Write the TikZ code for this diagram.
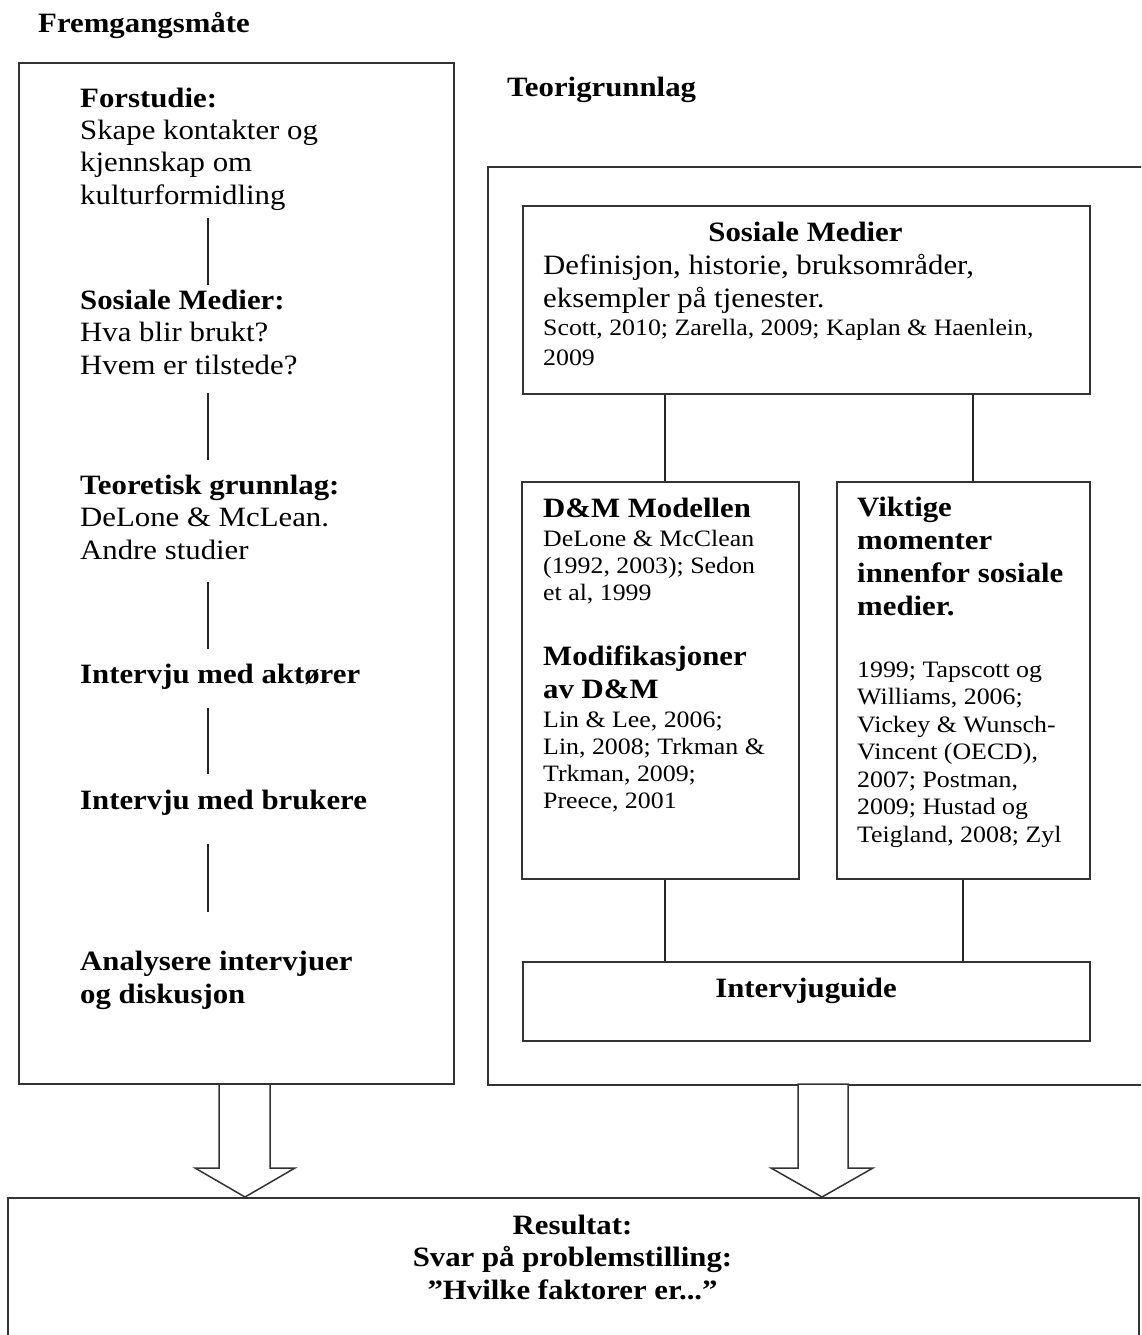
\documentclass[tikz,border=0pt]{standalone}
\usepackage{fontspec}
\newfontfamily\tnr{Liberation Serif}[FakeStretch=1.1]
\tikzset{
  frame/.style={draw=black!80, line width=1.6pt, rectangle, inner sep=0pt, anchor=north west},
  conn/.style={draw=black!85, line width=1.4pt},
  big/.style={font={\tnr\fontsize{28}{32.3}\selectfont}},
  small/.style={font={\tnr\fontsize{23.5}{27}\selectfont}},
  txt/.style={anchor=base west, inner sep=0pt, align=left, text=black},
  ctxt/.style={anchor=base, inner sep=0pt, align=center, text=black},
  blockarrow/.style={draw=black!80, line width=1.5pt, fill=white, line join=miter}
}
\begin{document}
\begin{tikzpicture}[x=1pt,y=-1pt]
\useasboundingbox (0,0) rectangle (1141,1335);
\clip (0,0) rectangle (1141,1335);
\fill[white] (0,0) rectangle (1141,1335);

% titles (base anchor = baseline of the last line)
\node[txt, font={\tnr\fontsize{28}{32}\selectfont\bfseries}] (t1) at (38,33) {Fremgangsmåte};
\node[txt, font={\tnr\fontsize{28}{32}\selectfont\bfseries}] (t2) at (507,97) {Teorigrunnlag};

% frames
\node[frame, minimum width=435pt, minimum height=1021pt] (lb) at (18,62) {};
\node[frame, minimum width=700pt, minimum height=918pt] (rb) at (487,166) {};
\node[frame, minimum width=567pt, minimum height=188pt] (sm) at (522,205) {};
\node[frame, minimum width=277pt, minimum height=397pt] (dm) at (521,481) {};
\node[frame, minimum width=253pt, minimum height=397pt] (vm) at (836,481) {};
\node[frame, minimum width=567pt, minimum height=79pt] (ig) at (522,961) {};
\node[frame, minimum width=1131pt, minimum height=180pt] (res) at (7,1197) {};

% left column texts
\node[txt, big] (l1) at (80,204) {\textbf{Forstudie:}\\Skape kontakter og\\kjennskap om\\kulturformidling};
\node[txt, big] (l2) at (80,374) {\textbf{Sosiale Medier:}\\Hva blir brukt?\\Hvem er tilstede?};
\node[txt, big] (l3) at (80,559) {\textbf{Teoretisk grunnlag:}\\DeLone \& McLean.\\Andre studier};
\node[txt, big] (l4) at (80,683) {\textbf{Intervju med aktører}};
\node[txt, big] (l5) at (80,809) {\textbf{Intervju med brukere}};
\node[txt, big] (l6) at (80,1003) {\textbf{Analysere intervjuer}\\\textbf{og diskusjon}};

% left connectors
\coordinate (a1) at (208,218); \coordinate (b1) at (208,285);
\coordinate (a2) at (208,393); \coordinate (b2) at (208,460);
\coordinate (a3) at (208,582); \coordinate (b3) at (208,649);
\coordinate (a4) at (208,708); \coordinate (b4) at (208,774);
\coordinate (a5) at (208,844); \coordinate (b5) at (208,912);
\draw[conn] (a1) -- (b1);
\draw[conn] (a2) -- (b2);
\draw[conn] (a3) -- (b3);
\draw[conn] (a4) -- (b4);
\draw[conn] (a5) -- (b5);

% Sosiale Medier box
\node[ctxt, font={\tnr\fontsize{28}{32.3}\selectfont\bfseries}] (smh) at (805.5,241) {Sosiale Medier};
\node[txt, big] (smb) at (543,307) {Definisjon, historie, bruksområder,\\eksempler på tjenester.};
\node[txt, font={\tnr\fontsize{23.5}{30}\selectfont}] (smc) at (543,365) {Scott, 2010; Zarella, 2009; Kaplan \& Haenlein,\\2009};

% D&M box
\node[txt, big] (dmh) at (543,517) {\textbf{D\&M Modellen}};
\node[txt, small] (dmc) at (543,600) {DeLone \& McClean\\(1992, 2003); Sedon\\et al, 1999};
\node[txt, big] (mdh) at (543,698) {\textbf{Modifikasjoner}\\\textbf{av D\&M}};
\node[txt, small] (mdc) at (543,808) {Lin \& Lee, 2006;\\Lin, 2008; Trkman \&\\Trkman, 2009;\\Preece, 2001};

% Viktige box
\node[txt, font={\tnr\fontsize{28}{32.7}\selectfont\bfseries}] (vmh) at (857,615) {Viktige\\momenter\\innenfor sosiale\\medier.};
\node[txt, font={\tnr\fontsize{23.5}{27.5}\selectfont}] (vmc) at (857,842) {1999; Tapscott og\\Williams, 2006;\\Vickey \& Wunsch-\\Vincent (OECD),\\2007; Postman,\\2009; Hustad og\\Teigland, 2008; Zyl};

% Intervjuguide
\node[ctxt, font={\tnr\fontsize{28}{32}\selectfont\bfseries}] (igt) at (806,997) {Intervjuguide};

% right connectors
\coordinate (c1) at (665,0);
\coordinate (c2) at (973,0);
\coordinate (c3) at (665,0);
\coordinate (c4) at (963,0);
\draw[conn] (sm.south -| c1) -- (dm.north -| c1);
\draw[conn] (sm.south -| c2) -- (vm.north -| c2);
\draw[conn] (dm.south -| c3) -- (ig.north -| c3);
\draw[conn] (vm.south -| c4) -- (ig.north -| c4);

% block arrows
\draw[blockarrow] (219,1084) -- (219,1168) -- (195,1168) -- (245,1197) -- (295,1168) -- (270,1168) -- (270,1084) -- cycle;
\draw[blockarrow] (798,1084) -- (798,1168) -- (771,1168) -- (822,1197) -- (873,1168) -- (848,1168) -- (848,1084) -- cycle;

% result
\node[ctxt, font={\tnr\fontsize{28}{32.5}\selectfont\bfseries}] (rt) at (572.5,1299) {Resultat:\\Svar på problemstilling:\\”Hvilke faktorer er...”};
\end{tikzpicture}
\end{document}
